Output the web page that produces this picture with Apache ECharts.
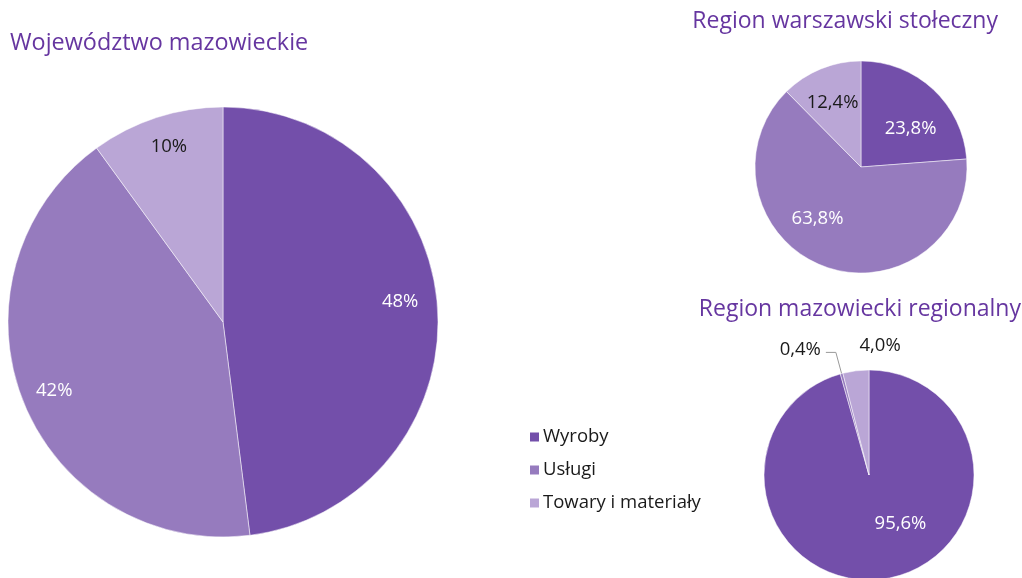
<!DOCTYPE html>
<html>
<head>
<meta charset="utf-8">
<title>Struktura sprzedaży</title>
<script src="https://cdn.jsdelivr.net/npm/echarts@6/dist/echarts.min.js"></script>
<style>
  html, body { margin: 0; padding: 0; background: #fff; }
  #chart { width: 1022px; height: 578px; }
</style>
</head>
<body>
<div id="chart"></div>
<script>
// kategorie i udziały (%)
const categories = ['Wyroby', 'Usługi', 'Towary i materiały']
const wojewodztwo = [48, 42, 10]
const warszawski = [23.8, 63.8, 12.4]
const mazowiecki = [95.6, 0.4, 4.0]
const titles = ['Województwo mazowieckie', 'Region warszawski stołeczny', 'Region mazowiecki regionalny']

const colors = ['#734FAA', '#967BBE', '#BAA6D6']
const labelColors = ['#fff', '#fff', '#1a1a1a']
const font = '"Open Sans", "Noto Sans", sans-serif'

const fmt = (v, d) => v.toFixed(d).replace('.', ',') + '%'

// widoczne koło (bez etykiet wewnętrznych)
const pie = (values, center, radius, extra) => Object.assign({
  type: 'pie',
  center: center,
  radius: radius,
  startAngle: 90,
  clockwise: true,
  avoidLabelOverlap: false,
  label: { show: false },
  labelLine: { show: false },
  emphasis: { disabled: true },
  itemStyle: { borderColor: '#fff', borderWidth: 0.5 },
  data: values.map((v, i) => ({
    name: categories[i],
    value: v,
    itemStyle: { color: colors[i] }
  }))
}, extra || {})

// przezroczysta nakładka tylko na etykiety (przesuwa je bliżej krawędzi)
// nudge: drobne przesunięcia etykiet [dx, dy] jak w oryginale
const labels = (values, center, radius, dec, show, nudge) => ({
  type: 'pie',
  center: center,
  radius: radius,
  silent: true,
  startAngle: 90,
  clockwise: true,
  avoidLabelOverlap: false,
  emphasis: { disabled: true },
  tooltip: { show: false },
  labelLine: { show: false },
  itemStyle: { color: 'rgba(0,0,0,0)' },
  labelLayout: (p) => nudge ? { dx: nudge[p.dataIndex][0], dy: nudge[p.dataIndex][1] } : {},
  data: values.map((v, i) => ({
    name: categories[i],
    value: v,
    label: {
      show: show[i],
      position: 'inside',
      formatter: fmt(v, dec),
      color: labelColors[i],
      fontFamily: font,
      fontSize: 18.5
    }
  }))
})

const chart = echarts.init(document.getElementById('chart'))

const titleStyle = (size) => ({ color: '#6636A0', fontFamily: font, fontSize: size, fontWeight: 'normal' })

const option = {
  animation: false,
  title: [
    { text: titles[0], left: 10, top: 32, padding: 0, textStyle: titleStyle(23.4) },
    { text: titles[1], right: 24, top: 10, padding: 0, textStyle: titleStyle(23) },
    { text: titles[2], right: 1, top: 298, padding: 0, textStyle: titleStyle(23) }
  ],
  legend: {
    orient: 'vertical',
    left: 528,
    top: 426,
    padding: 0,
    icon: 'rect',
    itemWidth: 11,
    itemHeight: 11,
    itemGap: 11,
    data: categories,
    textStyle: { color: '#1a1a1a', fontFamily: font, fontSize: 18.5, lineHeight: 22, padding: [0, 0, 0, -2] }
  },
  series: [
    pie(wojewodztwo, [223, 322], 215),
    pie(warszawski, [861, 167], 106),
    pie(mazowiecki, [869, 475], 105, {
      data: mazowiecki.map((v, i) => ({
        name: categories[i],
        value: v,
        itemStyle: { color: colors[i] },
        label: {
          show: i > 0,
          position: 'outside',
          formatter: fmt(v, 1),
          color: '#1a1a1a',
          fontFamily: font,
          fontSize: 18.5
        },
        labelLine: {
          show: i === 1,
          length: 22,
          length2: 10,
          lineStyle: { color: '#999', width: 1 }
        }
      })),
      labelLayout: (p) => p.dataIndex === 2 ? { align: 'center', dx: 42, dy: -3 } : { dy: -3 }
    }),
    labels(wojewodztwo, [223, 322], [142, 215], 0, [true, true, true], [[-4, -9], [0, 2], [2, -3]]),
    labels(warszawski, [861, 167], [22, 106], 1, [true, true, true], [[4, 11], [-20, -11], [-3, -2]]),
    labels(mazowiecki, [869, 475], [12, 105], 1, [true, false, false], [[23, -12], [0, 0], [0, 0]])
  ]
}

chart.setOption(option)
window.addEventListener('resize', () => chart.resize())
</script>
</body>
</html>
